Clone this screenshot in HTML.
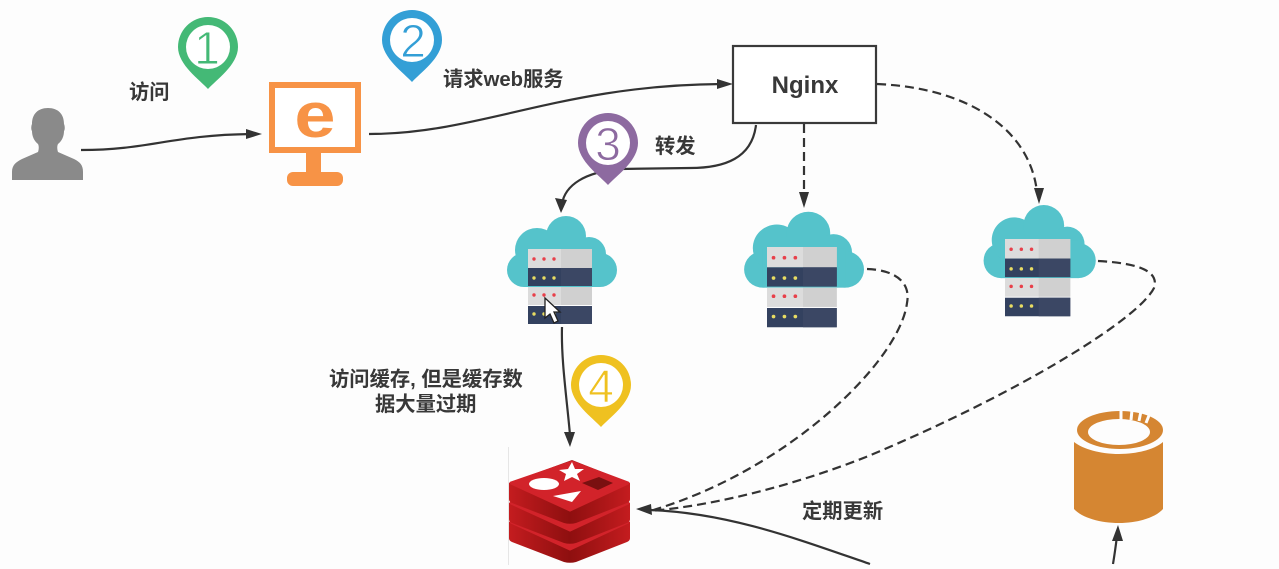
<!DOCTYPE html>
<html><head><meta charset="utf-8"><style>
html,body{margin:0;padding:0;background:#fdfdfd;width:1279px;height:569px;overflow:hidden}
svg{display:block}
.t{font-family:"Liberation Sans","Noto Sans CJK SC",sans-serif;font-weight:700;font-size:20.3px;fill:#383838}
.n{font-family:"Liberation Sans",sans-serif;font-size:46px;text-anchor:middle;stroke:#fff;stroke-width:.9}
.l{fill:none;stroke:#333;stroke-width:2.2}
.d{fill:none;stroke:#333;stroke-width:2.2;stroke-dasharray:9 5}
</style></head><body>
<svg width="1279" height="569" viewBox="0 0 1279 569" xmlns="http://www.w3.org/2000/svg">
<defs>
<linearGradient id="side" x1="0" x2="1" y1="0" y2="0"><stop offset="0" stop-color="#c41c1f"/><stop offset=".5" stop-color="#8e0f0f"/><stop offset="1" stop-color="#c41c1f"/></linearGradient>
<g id="srv">
<g fill="#55c3cb">
<circle cx="524" cy="270" r="17"/><circle cx="537" cy="250" r="22"/><circle cx="566" cy="236" r="20"/>
<circle cx="589" cy="254" r="17"/><circle cx="600" cy="270" r="17"/><rect x="524" y="250" width="76" height="37"/>
</g>
<rect x="528" y="249" width="64" height="19" fill="#dcdcdc"/><rect x="561" y="249" width="31" height="19" fill="#d0d0d0"/>
<rect x="528" y="268" width="64" height="18" fill="#33415f"/><rect x="561" y="268" width="31" height="18" fill="#3b4764"/>
<rect x="528" y="287" width="64" height="18" fill="#dcdcdc"/><rect x="561" y="287" width="31" height="18" fill="#d0d0d0"/>
<rect x="528" y="306" width="64" height="18" fill="#33415f"/><rect x="561" y="306" width="31" height="18" fill="#3b4764"/>
<g fill="#e8404a"><circle cx="534" cy="259" r="1.7"/><circle cx="544" cy="259" r="1.7"/><circle cx="554" cy="259" r="1.7"/><circle cx="534" cy="295" r="1.7"/><circle cx="544" cy="295" r="1.7"/><circle cx="554" cy="295" r="1.7"/></g>
<g fill="#e8dc62"><circle cx="534" cy="278" r="1.7"/><circle cx="544" cy="278" r="1.7"/><circle cx="554" cy="278" r="1.7"/><circle cx="534" cy="314" r="1.7"/><circle cx="544" cy="314" r="1.7"/><circle cx="554" cy="314" r="1.7"/></g>
</g>
<path id="pin" d="M0 42C-8 33-30 18-30 0a30 30 0 0 1 60 0C30 18 8 33 0 42z"/>
<g id="lay">
<path fill="url(#side)" d="M509 483L572 460L630 483V499C630 501 629 502 627 503L576 523C572 524 568 524 564 523L512 503C510 502 509 501 509 499z"/>
<path fill="#d2232a" stroke="#d2232a" stroke-width="3" stroke-linejoin="round" d="M511 483L572 462L628 483L570 510z"/>
</g>
</defs>
<rect width="1279" height="569" fill="#fdfdfd"/>

<!-- person -->
<path fill="#8a8a8a" d="M12 180v-8c0-7 4-10 10-13l16-7c1-3 1-6 0-8-4-3-6-8-6-13-1-1-1-5 0-7 0-10 6-16 16-16s16 6 16 16c1 2 1 6 0 7 0 5-2 10-6 13-1 2-1 5 0 8l16 7c6 3 9 6 9 13v8z"/>

<!-- monitor -->
<rect x="272" y="85" width="86" height="65" fill="#fff" stroke="#f79346" stroke-width="6"/>
<rect x="306" y="153" width="15" height="20" fill="#f79346"/>
<rect x="287" y="172" width="56" height="14" rx="6" fill="#f79346"/>
<text transform="translate(315 137) scale(1 .86)" font-family="Liberation Sans,sans-serif" font-weight="700" font-size="74" text-anchor="middle" fill="#f79346">e</text>

<!-- connectors -->
<path class="l" d="M81 150C150 150 170 135 252 134"/>
<path fill="#333" d="M262 134l-16-5v10z"/>
<path class="l" d="M369 134C480 134 560 85 722 84"/>
<path fill="#333" d="M733 84l-16-5v10z"/>
<path class="l" d="M756 125C752 158 725 168 690 168L620 169C585 172 565 185 562 204"/>
<path fill="#333" d="M561 213l-6-15 12 2z"/>
<path class="d" d="M804 124V197"/>
<path fill="#333" d="M804 208l-5-16h10z"/>
<path class="d" d="M877 84C970 88 1030 130 1037 192"/>
<path fill="#333" d="M1039 204l-5-16h10z"/>
<path class="d" d="M867 269C895 270 911 282 907 303C900 360 790 470 650 511"/>
<path class="d" d="M1098 261C1135 263 1160 270 1154 288C1138 320 1015 395 866 457C800 483 720 505 650 511"/>
<path class="l" d="M562 327C561 360 567 400 570 435"/>
<path fill="#333" d="M570 447l-6-15h11z"/>
<path class="l" d="M870 564C800 540 730 513 650 510"/>
<path fill="#333" d="M636 509l15-5 1 11z"/>
<path class="l" d="M1113 564C1115 552 1116 544 1117 536"/>
<path fill="#333" d="M1118 525l-6 16h11z"/>

<!-- pins -->
<g fill="#44b976" transform="translate(208 47)"><use href="#pin"/><circle r="22" fill="#fff"/></g>
<g fill="#339fd6" transform="translate(412 40)"><use href="#pin"/><circle r="22" fill="#fff"/></g>
<g fill="#8d6aa0" transform="translate(608 143)"><use href="#pin"/><circle r="22" fill="#fff"/></g>
<g fill="#efc120" transform="translate(601 385)"><use href="#pin"/><circle r="22" fill="#fff"/></g>
<text class="n" x="207" y="64" fill="#44b976">1</text>
<text class="n" x="413" y="57" fill="#339fd6">2</text>
<text class="n" x="608" y="160" fill="#8d6aa0">3</text>
<text class="n" x="601" y="402" fill="#efc120">4</text>

<!-- servers -->
<use href="#srv"/>
<use href="#srv" transform="translate(767 247) scale(1.09 1.07) translate(-528 -249)"/>
<use href="#srv" transform="translate(1005 239) scale(1.02 1.03) translate(-528 -249)"/>

<!-- cursor -->
<path d="M545 298v20l5-4 4 9 4-2-4-9h6z" fill="#fff" stroke="#222" stroke-width="1.3"/>

<!-- nginx -->
<rect x="733" y="46" width="143" height="77" fill="#fff" stroke="#3a3a3a" stroke-width="2.2"/>
<text x="805" y="93" text-anchor="middle" font-family="Liberation Sans,sans-serif" font-weight="700" font-size="24" fill="#383838">Nginx</text>

<!-- redis -->
<rect x="508" y="447" width="1" height="118" fill="#e6e6e6"/>
<use href="#lay" transform="translate(0 39)"/>
<use href="#lay" transform="translate(0 20)"/>
<use href="#lay"/>
<ellipse cx="544" cy="484" rx="15" ry="6" fill="#fff"/>
<path fill="#fff" d="M572 462l3 7 9 0-7 5 3 7-8-4-8 4 2-7-7-4 9-1z"/>
<path fill="#fff" d="M553 496l28-5-9 11z"/>
<path fill="#7a1010" d="M582 483l17-6 14 6-15 7z"/>

<!-- cylinder -->
<path fill="#d58632" d="M1074 442c9 7 26 12 45 12s36-5 44-12v67c-8 9-26 14-44 14s-37-5-45-14z"/>
<ellipse cx="1120" cy="430" rx="43" ry="19" fill="#d58632"/>
<ellipse cx="1119" cy="432" rx="31" ry="13" fill="#fdfdfd"/>
<path d="M1121 409v11M1132 410l-1 10M1141 411l-2 10M1150 413l-4 10" stroke="#fdfdfd" stroke-width="3" fill="none"/>

<!-- labels -->
<text class="t" x="129" y="99">访问</text>
<text class="t" x="443" y="86">请求web服务</text>
<text class="t" x="655" y="153">转发</text>
<text class="t" x="329" y="386">访问缓存, 但是缓存数</text>
<text class="t" x="375" y="411">据大量过期</text>
<text class="t" x="802" y="518">定期更新</text>
</svg>
</body></html>
